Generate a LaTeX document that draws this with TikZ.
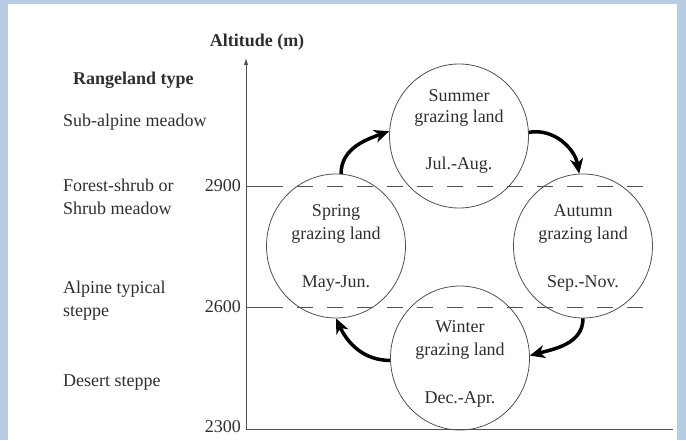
\documentclass[tikz,border=0pt]{standalone}
\usepackage{fontspec}
\setmainfont{Liberation Serif}
\usetikzlibrary{shapes.geometric,arrows.meta}
\definecolor{bandblue}{HTML}{B8CCE4}
\definecolor{txtgray}{HTML}{2E2E2E}
\definecolor{linegray}{HTML}{505050}
\tikzset{
  lbl/.style={font=\fontsize{18}{22}\selectfont, text=txtgray, inner sep=0pt,
              text height=12.6pt, text depth=3.6pt},
  blbl/.style={lbl, font=\fontsize{18}{22}\selectfont\bfseries},
  season/.style={draw=linegray, line width=0.8pt, ellipse, inner sep=0pt,
                 minimum width=139pt, minimum height=144pt},
  cyc/.style={line width=3.5pt, black,
              -{Stealth[length=15pt,width=13pt,inset=4.5pt]}},
  gridline/.style={draw=linegray, line width=1pt},
  dashline/.style={gridline, dash pattern=on 16pt off 14pt},
}
\begin{document}
\begin{tikzpicture}[x=1pt,y=1pt]
\useasboundingbox (0,0) rectangle (686,440);
% light blue frame strips
\fill[bandblue] (0,0) rectangle (8,440);
\fill[bandblue] (0,436) rectangle (686,440);
\fill[bandblue] (677,0) rectangle (686,440);

% axes
\coordinate (origin) at (246,11);
\coordinate (ytop) at (246,382);
\coordinate (xend) at (673,11);
\draw[gridline, -{Latex[length=7pt,width=4.5pt]}] (origin) -- (ytop);
\draw[gridline] (origin) -- (xend);

% level lines
\draw[gridline] (246,253) -- (283,253);
\draw[dashline] (297,253) -- (653,253);
\draw[gridline] (246,133) -- (283,133);
\draw[dashline] (297,133) -- (653,133);

% axis labels
\node[blbl] (alt) at (257,398) {Altitude (m)};
\node[blbl, anchor=west] (rtype) at (73,360) {Rangeland type};
\node[lbl, anchor=west] (t1) at (63,318) {Sub-alpine meadow};
\node[lbl, anchor=west] (t2a) at (63,253) {Forest-shrub or};
\node[lbl, anchor=west] (t2b) at (63,230) {Shrub meadow};
\node[lbl, anchor=west] (t3a) at (63,151) {Alpine typical};
\node[lbl, anchor=west] (t3b) at (63,128) {steppe};
\node[lbl, anchor=west] (t4) at (63,58) {Desert steppe};
\node[lbl, anchor=east] (v2900) at (241,253) {2900};
\node[lbl, anchor=east] (v2600) at (241,132) {2600};
\node[lbl, anchor=east] (v2300) at (241,12) {2300};

% season ellipses
\node[season] (spring) at (336,194) {};
\node[season] (summer) at (459,304) {};
\node[season] (autumn) at (583,194) {};
\node[season] (winter) at (460,82) {};

% texts inside
\node[lbl] (sp1) at (336,228) {Spring};
\node[lbl] (sp2) at (336,205) {grazing land};
\node[lbl] (sp3) at (336,157) {May-Jun.};
\node[lbl] (su1) at (459,343) {Summer};
\node[lbl] (su2) at (459,322) {grazing land};
\node[lbl] (su3) at (459,275) {Jul.-Aug.};
\node[lbl] (au1) at (583,228) {Autumn};
\node[lbl] (au2) at (583,205) {grazing land};
\node[lbl] (au3) at (583,157) {Sep.-Nov.};
\node[lbl] (wi1) at (460,112) {Winter};
\node[lbl] (wi2) at (460,89) {grazing land};
\node[lbl] (wi3) at (460,41) {Dec.-Apr.};

% cycle arrows
\draw[cyc] (spring.86) to[out=90,in=200] (summer.176);
\draw[cyc] (summer.3) to[out=10,in=100] (autumn.93);
\draw[cyc] (autumn.270) to[out=-90,in=15] (winter.2);
\draw[cyc] (winter.182) to[out=180,in=-65] (spring.270);
\end{tikzpicture}
\end{document}
